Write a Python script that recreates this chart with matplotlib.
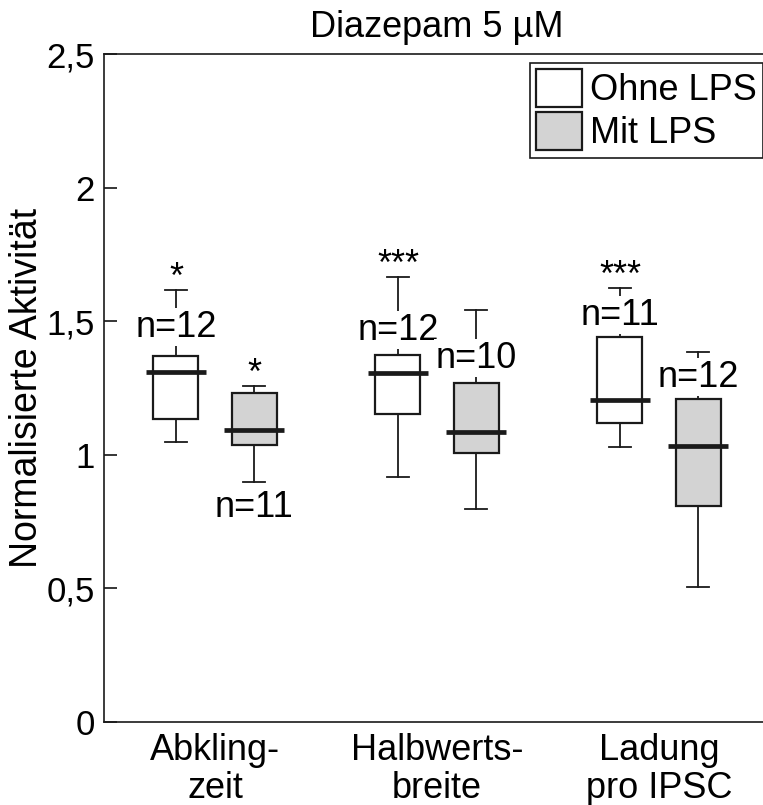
import matplotlib.pyplot as plt
from matplotlib.patches import Patch

plt.rcParams['font.family'] = ['Liberation Sans', 'DejaVu Sans']

categories = ["Abkling-\nzeit", "Halbwerts-\nbreite", "Ladung\npro IPSC"]
groups = ["Ohne LPS", "Mit LPS"]

# Boxplot-Kennwerte je Gruppe: Whisker unten, Q1, Median, Q3, Whisker oben
ohne_whislo = [1.049, 0.918, 1.030]
ohne_q1 = [1.134, 1.153, 1.119]
ohne_med = [1.310, 1.306, 1.205]
ohne_q3 = [1.369, 1.373, 1.440]
ohne_whishi = [1.616, 1.664, 1.623]

mit_whislo = [0.899, 0.799, 0.507]
mit_q1 = [1.037, 1.007, 0.810]
mit_med = [1.093, 1.086, 1.034]
mit_q3 = [1.231, 1.269, 1.209]
mit_whishi = [1.257, 1.541, 1.384]

n_ohne = [12, 12, 11]
n_mit = [11, 10, 12]
sig_ohne = ["*", "***", "***"]
sig_mit = ["*", "", ""]

yticks = [0, 0.5, 1, 1.5, 2, 2.5]
ytick_labels = ["0", "0,5", "1", "1,5", "2", "2,5"]

# Lage der n-Beschriftungen
n_ohne_y = [1.478, 1.466, 1.522]
n_mit_y = [0.802, 1.362, 1.291]

colors = ["white", "lightgray"]
offset = 0.176
box_w = 0.203


def make_stats(lo, q1, med, q3, hi):
    return [dict(whislo=a, q1=b, med=c, q3=d, whishi=e, fliers=[])
            for a, b, c, d, e in zip(lo, q1, med, q3, hi)]


fig = plt.figure(figsize=(7.63, 8.05), dpi=100)
ax = fig.add_axes([0.1363, 0.1031, 0.8729, 0.8298])

sets = [
    (make_stats(ohne_whislo, ohne_q1, ohne_med, ohne_q3, ohne_whishi), -offset, colors[0], ohne_med),
    (make_stats(mit_whislo, mit_q1, mit_med, mit_q3, mit_whishi), offset, colors[1], mit_med),
]
for stats, dx, col, meds in sets:
    pos = [i + dx for i in range(len(categories))]
    ax.bxp(stats, positions=pos, widths=box_w, capwidths=0.1, patch_artist=True,
           showfliers=False,
           boxprops=dict(facecolor=col, edgecolor='#1a1a1a', linewidth=1.6),
           whiskerprops=dict(color='#1a1a1a', linewidth=1.3),
           capprops=dict(color='#1a1a1a', linewidth=1.3),
           medianprops=dict(visible=False))
    # Median als breiter, dicker Strich
    ax.hlines(meds, [p - 0.135 for p in pos], [p + 0.135 for p in pos],
              colors='#1a1a1a', linewidth=3.4, zorder=4)

for i in range(len(categories)):
    ax.text(i - offset, n_ohne_y[i], f"n={n_ohne[i]}", ha='center', va='center',
            fontsize=26, zorder=5,
            bbox=dict(facecolor='white', edgecolor='none', pad=1))
    ax.text(i + offset, n_mit_y[i], f"n={n_mit[i]}", ha='center', va='center',
            fontsize=26, zorder=5,
            bbox=dict(facecolor='white', edgecolor='none', pad=1))
    if sig_ohne[i]:
        ax.text(i - offset, ohne_whishi[i] + 0.045, sig_ohne[i], ha='center',
                va='center', fontsize=26)
    if sig_mit[i]:
        ax.text(i + offset, mit_whishi[i] + 0.045, sig_mit[i], ha='center',
                va='center', fontsize=26)

ax.set_xlim(-0.5, 2.5)
ax.set_ylim(0, 2.5)
ax.set_xticks(range(len(categories)))
ax.set_xticklabels(categories, fontsize=26, linespacing=1.12)
ax.tick_params(axis='x', length=0, pad=8)
ax.set_yticks(yticks)
ax.set_yticklabels(ytick_labels, fontsize=25)
ax.tick_params(axis='y', direction='in', length=9.5, width=1.1, pad=6.5)
ax.set_ylabel("Normalisierte Aktivität", fontsize=27, labelpad=1)
ax.set_title("Diazepam 5 µM", fontsize=26, pad=12)

for side in ['left', 'top', 'bottom']:
    ax.spines[side].set_linewidth(1.2)
    ax.spines[side].set_color('#1a1a1a')
ax.spines['right'].set_visible(False)

handles = [Patch(facecolor=c, edgecolor='#1a1a1a', linewidth=1.6) for c in colors]
leg = ax.legend(handles, groups, loc='upper right', bbox_to_anchor=(0.9995, 0.9217),
                bbox_transform=fig.transFigure, borderaxespad=0, fontsize=26,
                handlelength=1.27, handleheight=1.24, handletextpad=0.22,
                labelspacing=0.11, borderpad=0.17, fancybox=False, framealpha=1)
leg.get_frame().set_edgecolor('#1a1a1a')
leg.get_frame().set_linewidth(1.2)

plt.savefig('out.png', dpi=100)
plt.close()
